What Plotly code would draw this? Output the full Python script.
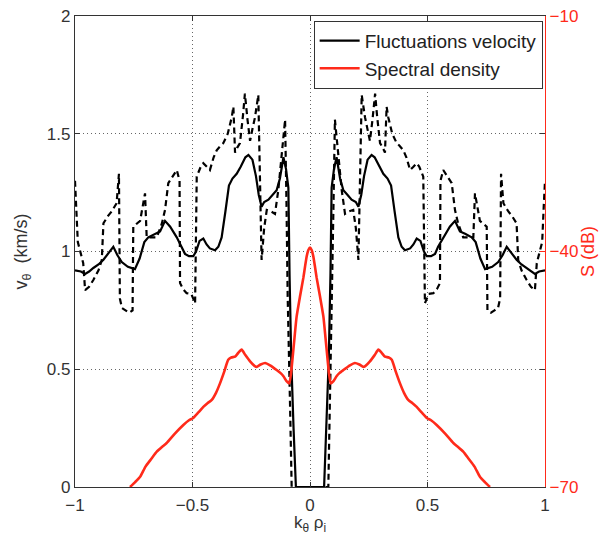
import plotly.graph_objects as go

# ---- data (left half of a symmetric spectrum; right half is its mirror) ----
k_solid_half = [-1.0, -0.975, -0.957, -0.94, -0.922, -0.9, -0.879, -0.86, -0.837, -0.82,
                -0.801, -0.775, -0.745, -0.725, -0.705, -0.688, -0.66, -0.638, -0.617, -0.595,
                -0.567, -0.545, -0.532, -0.515, -0.497, -0.485, -0.47, -0.454, -0.44, -0.426,
                -0.404, -0.39, -0.376, -0.36, -0.345, -0.33, -0.312, -0.295, -0.275, -0.262,
                -0.245, -0.23, -0.218, -0.206, -0.195, -0.177, -0.16, -0.142, -0.128, -0.113,
                -0.102, -0.092, -0.087, -0.08, -0.07, -0.06]
v_solid_half = [0.92, 0.915, 0.905, 0.915, 0.93, 0.945, 0.965, 0.99, 1.02, 0.985,
                0.955, 0.935, 0.925, 0.97, 1.04, 1.06, 1.075, 1.085, 1.13, 1.105,
                1.06, 1.02, 0.99, 0.98, 0.98, 1.0, 1.045, 1.055, 1.03, 1.013,
                1.005, 1.02, 1.06, 1.17, 1.28, 1.31, 1.33, 1.36, 1.40, 1.41,
                1.39, 1.32, 1.24, 1.19, 1.21, 1.22, 1.24, 1.26, 1.31, 1.40,
                1.35, 1.27, 0.9, 0.55, 0.25, 0.0]

k_dash_half = [-1.0, -0.995, -0.988, -0.975, -0.965, -0.957, -0.94, -0.922, -0.9, -0.886,
               -0.879, -0.86, -0.844, -0.823, -0.813, -0.809, -0.8, -0.785, -0.77, -0.755,
               -0.752, -0.735, -0.723, -0.702, -0.695, -0.675, -0.652, -0.63, -0.617, -0.603,
               -0.585, -0.567, -0.555, -0.553, -0.54, -0.525, -0.505, -0.489, -0.482, -0.465,
               -0.454, -0.44, -0.426, -0.41, -0.397, -0.38, -0.369, -0.35, -0.333, -0.326,
               -0.319, -0.31, -0.298, -0.285, -0.277, -0.266, -0.255, -0.245, -0.234, -0.22,
               -0.215, -0.21, -0.206, -0.195, -0.184, -0.165, -0.149, -0.135, -0.12, -0.106,
               -0.1, -0.095, -0.085, -0.078]
v_dash_half = [1.30, 1.20, 1.04, 0.99, 0.95, 0.836, 0.85, 0.879, 0.92, 0.964,
               1.12, 1.15, 1.17, 1.205, 1.33, 0.80, 0.76, 0.75, 0.74, 0.75,
               1.105, 1.12, 1.13, 1.247, 1.06, 1.06, 1.06, 1.12, 1.176, 1.29,
               1.32, 1.346, 1.30, 0.866, 0.84, 0.823, 0.82, 0.78, 1.318, 1.36,
               1.375, 1.36, 1.346, 1.40, 1.43, 1.45, 1.46, 1.50, 1.57, 1.615,
               1.42, 1.44, 1.46, 1.58, 1.67, 1.56, 1.47, 1.52, 1.57, 1.665,
               1.45, 1.15, 0.964, 1.10, 1.176, 1.17, 1.16, 1.26, 1.40, 1.56,
               1.2, 0.81, 0.35, 0.0]

k_S_half = [-0.766, -0.745, -0.723, -0.7, -0.675, -0.652, -0.63, -0.61, -0.575, -0.539,
            -0.515, -0.497, -0.475, -0.454, -0.435, -0.418, -0.4, -0.383, -0.365, -0.348,
            -0.335, -0.319, -0.305, -0.291, -0.275, -0.255, -0.235, -0.227, -0.21, -0.191,
            -0.17, -0.142, -0.125, -0.113, -0.1, -0.088, -0.08, -0.073, -0.066, -0.057,
            -0.043, -0.028, -0.021, -0.014, -0.007, 0.0]
S_half = [-70, -69.4, -68.7, -67.4, -66.4, -65.5, -64.9, -64.4, -63.2, -62.1,
          -61.5, -61.2, -60.5, -59.8, -59.3, -58.9, -58.0, -56.8, -55.3, -53.8,
          -53.5, -53.4, -52.9, -52.5, -53.2, -54.0, -54.6, -54.7, -54.4, -54.2,
          -54.5, -55.1, -55.5, -55.9, -56.5, -56.8, -55.3, -53.2, -51.0, -48.3,
          -45.8, -43.3, -41.9, -40.6, -39.8, -39.5]

x_ticks = [-1, -0.5, 0, 0.5, 1]
v_ticks = [0, 0.5, 1, 1.5, 2]
S_ticks = [-70, -40, -10]


def mirror(k, v, skip_center=False):
    kk = list(reversed(k))
    vv = list(reversed(v))
    if skip_center:
        kk, vv = kk[1:], vv[1:]
    return k + [-a for a in kk], v + vv


k_solid, v_solid = mirror(k_solid_half, v_solid_half)
k_dash, v_dash = mirror(k_dash_half, v_dash_half)
k_S, S_vals = mirror(k_S_half, S_half, skip_center=True)

FONT = "Liberation Sans, Arial, Helvetica, sans-serif"
TXT = "#333333"
RED = "#ff2a1a"

fig = go.Figure()
fig.add_trace(go.Scatter(x=k_solid, y=v_solid, mode="lines", name="Fluctuations velocity",
                         line=dict(color="black", width=2.2), yaxis="y"))
fig.add_trace(go.Scatter(x=k_dash, y=v_dash, mode="lines", showlegend=False,
                         line=dict(color="black", width=2.2, dash="6px,4px"), yaxis="y"))
fig.add_trace(go.Scatter(x=k_S, y=S_vals, mode="lines", name="Spectral density",
                         line=dict(color=RED, width=2.6, shape="spline", smoothing=0.5),
                         yaxis="y2"))

# the page body adds an 8 px offset; size the figure so it fills the 611x535 window
fig.update_layout(
    width=603, height=527,
    margin=dict(l=67, r=66, t=8, b=48),
    paper_bgcolor="white", plot_bgcolor="white",
    font=dict(family=FONT, size=17, color=TXT),
    showlegend=True,
    legend=dict(x=0.995, y=0.99, xanchor="right", yanchor="top",
                bgcolor="white", bordercolor="#333333", borderwidth=1,
                font=dict(family=FONT, size=19, color="#222222"),
                tracegroupgap=0, itemwidth=40),
    xaxis=dict(range=[-1, 1], tickvals=x_ticks, ticktext=["\u22121", "\u22120.5", "0", "0.5", "1"],
               automargin=False, ticklabeloverflow="allow", ticklabelstandoff=2,
               showgrid=True, gridcolor="#666666", griddash="1px,3px", gridwidth=1,
               zeroline=False, showline=True, linecolor="#333333", linewidth=1.2,
               mirror="ticks", ticks="inside", ticklen=5, tickcolor="#333333",
               tickfont=dict(size=17, color=TXT),
               title=dict(text="k<sub>\u03b8</sub> \u03c1<sub>i</sub>", standoff=4,
                          font=dict(size=17, color=TXT))),
    yaxis=dict(range=[0, 2], tickvals=v_ticks, ticktext=["0", "0.5", "1", "1.5", "2"],
               automargin=False, ticklabeloverflow="allow",
               showgrid=True, gridcolor="#666666", griddash="1px,3px", gridwidth=1,
               zeroline=False, showline=True, linecolor="#333333", linewidth=1.2,
               mirror="ticks", ticks="inside", ticklen=5, tickcolor="#333333",
               tickfont=dict(size=17, color=TXT),
               title=dict(text="v<sub>\u03b8</sub>  (km/s)", standoff=14,
                          font=dict(size=18, color=TXT))),
    yaxis2=dict(range=[-70, -10], tickvals=S_ticks, ticktext=["\u221270", "\u221240", "\u221210"],
                automargin=False, ticklabeloverflow="allow",
                overlaying="y", side="right", showgrid=False, zeroline=False,
                showline=True, linecolor=RED, linewidth=1.2,
                ticks="inside", ticklen=5, tickcolor=RED,
                tickfont=dict(color=RED, size=17),
                title=dict(text="S (dB)", standoff=2, font=dict(size=18, color=RED))),
)

fig.write_html("out.html")
